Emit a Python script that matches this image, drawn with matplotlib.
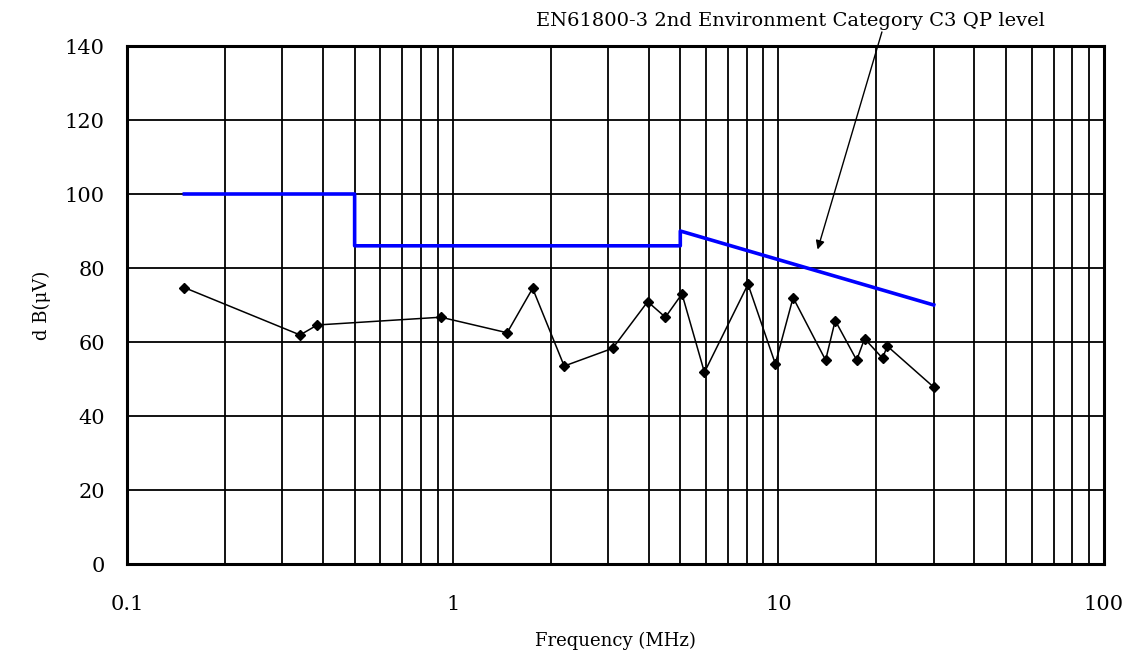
import matplotlib
matplotlib.use("Agg")
import matplotlib.pyplot as plt
from matplotlib.ticker import FixedLocator, NullFormatter

plt.rcParams['font.family'] = ['DejaVu Serif', 'Liberation Serif']

# Limit line: EN61800-3 C3 QP level
limit_freq = [0.15, 0.5, 0.5, 5, 5, 30]
limit_level = [100, 100, 86, 86, 90, 70]

# Measured QP points
meas_freq = [0.15, 0.34, 0.384, 0.92, 1.47, 1.76, 2.2, 3.1, 3.97, 4.5, 5.06,
             5.93, 8.07, 9.79, 11.1, 13.97, 14.95, 17.4, 18.4, 20.9, 21.6, 30.0]
meas_level = [74.7, 61.9, 64.6, 66.7, 62.5, 74.5, 53.5, 58.3, 70.9, 66.7, 73.0,
              51.8, 75.6, 54.1, 72.0, 55.1, 65.8, 55.1, 60.9, 55.6, 58.9, 47.8]

x_ticks = [0.1, 1, 10, 100]
x_ticklabels = ['0.1', '1', '10', '100']
y_ticks = [0, 20, 40, 60, 80, 100, 120, 140]

label_text = 'EN61800-3 2nd Environment Category C3 QP level'

fig = plt.figure(figsize=(11.37, 6.61), dpi=100)
ax = fig.add_axes([127 / 1137, 1 - 564 / 661, (1104 - 127) / 1137, (564 - 46) / 661])

ax.plot(limit_freq, limit_level, color='#0000ff', lw=2.6, zorder=3)
ax.plot(meas_freq, meas_level, color='black', lw=1.1, marker='D', ms=5, zorder=4)

ax.set_xscale('log')
ax.set_xlim(0.1, 100)
ax.set_ylim(0, 140)

# grid lines at every 1..9 step of each decade
minor = [m * 10.0 ** e for e in (-1, 0, 1) for m in range(2, 10)]
ax.xaxis.set_major_locator(FixedLocator(x_ticks))
ax.xaxis.set_minor_locator(FixedLocator(minor))
ax.xaxis.set_minor_formatter(NullFormatter())
ax.set_xticks(x_ticks)
ax.set_xticklabels(x_ticklabels)
ax.set_yticks(y_ticks)

ax.grid(True, which='both', axis='x', color='black', lw=1.3)
ax.grid(True, which='major', axis='y', color='black', lw=1.3)
ax.set_axisbelow(True)
ax.tick_params(which='both', length=0, labelsize=15)
ax.tick_params(axis='x', pad=22)
ax.tick_params(axis='y', pad=16)

for s in ax.spines.values():
    s.set_linewidth(2.2)

ax.set_xlabel('Frequency (MHz)', fontsize=13, labelpad=13)
ax.set_ylabel('d B(\u03bcV)', fontsize=13, labelpad=10)

ax.text(10.9, 146.8, label_text, ha='center', va='center', fontsize=14)
ax.annotate('', xy=(13.2, 85.0), xytext=(20.8, 143.8),
            arrowprops=dict(arrowstyle='-|>', color='black', lw=1.0,
                            mutation_scale=13, shrinkA=0, shrinkB=0),
            annotation_clip=False)

fig.savefig('out.png', dpi=100)
